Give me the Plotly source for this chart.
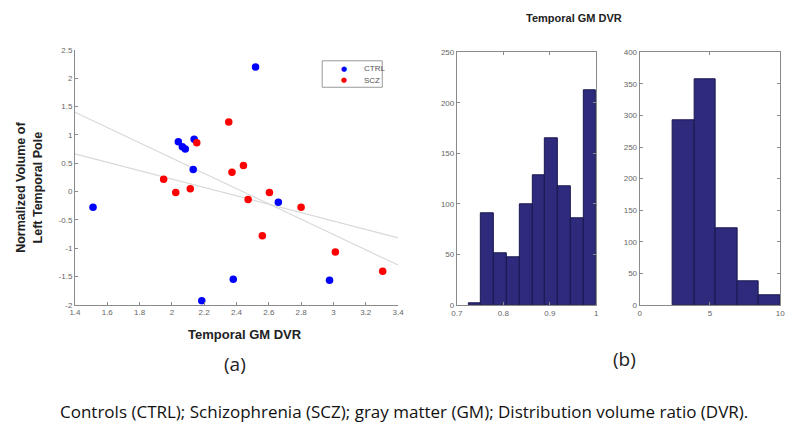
import plotly.graph_objects as go

# ---------------- data ----------------
ctrl_x = [2.518, 2.040, 2.065, 2.083, 2.138, 2.132, 1.512, 2.659, 2.380, 2.185, 2.976]
ctrl_y = [2.20, 0.88, 0.79, 0.75, 0.925, 0.39, -0.28, -0.19, -1.55, -1.93, -1.57]

scz_x = [2.352, 2.154, 2.443, 2.372, 1.949, 2.024, 2.114, 2.472, 2.604, 2.800, 2.560, 3.012, 3.305]
scz_y = [1.23, 0.86, 0.46, 0.34, 0.215, -0.016, 0.05, -0.14, -0.016, -0.28, -0.78, -1.07, -1.41]

fit_x = [1.4, 3.4]
fit1_y = [1.40, -1.30]
fit2_y = [0.665, -0.82]

hist1_edges = [0.725, 0.7525, 0.78, 0.8075, 0.835, 0.8625, 0.89, 0.9175, 0.945, 0.9725, 1.0]
hist1_counts = [2, 91, 51, 47, 100, 128, 165, 117, 86, 212]

hist2_edges = [2.35, 3.88, 5.41, 6.94, 8.47, 10.0]
hist2_counts = [292, 357, 122, 38, 16]

x1_ticks = [1.4, 1.6, 1.8, 2, 2.2, 2.4, 2.6, 2.8, 3, 3.2, 3.4]
y1_ticks = [-2, -1.5, -1, -0.5, 0, 0.5, 1, 1.5, 2, 2.5]

groups = ["CTRL", "SCZ"]
group_colors = ["#0000ff", "#ff0000"]

W, H = 800, 438
def px(x): return x / W
def py(y): return 1 - y / H

TICKFONT = dict(family="Liberation Sans", size=8, color="#666666")
AXCOL = "#8a8a8a"
BAR = "#2e2a7c"

def mids(e): return [(e[i] + e[i + 1]) / 2 for i in range(len(e) - 1)]
def widths(e): return [e[i + 1] - e[i] for i in range(len(e) - 1)]

fig = go.Figure()

# regression lines
for fy in (fit1_y, fit2_y):
    fig.add_trace(go.Scatter(x=fit_x, y=fy, mode="lines", line=dict(color="#d9d9d9", width=1.2),
                             showlegend=False, xaxis="x", yaxis="y", hoverinfo="skip"))
# points
fig.add_trace(go.Scatter(x=ctrl_x, y=ctrl_y, mode="markers", name=groups[0],
                         marker=dict(color=group_colors[0], size=7.5), xaxis="x", yaxis="y",
                         showlegend=False))
fig.add_trace(go.Scatter(x=scz_x, y=scz_y, mode="markers", name=groups[1],
                         marker=dict(color=group_colors[1], size=7.5), xaxis="x", yaxis="y",
                         showlegend=False))

# histograms
fig.add_trace(go.Bar(x=mids(hist1_edges), y=hist1_counts, width=widths(hist1_edges),
                     marker=dict(color=BAR, line=dict(color="#1a1850", width=1)),
                     showlegend=False, xaxis="x2", yaxis="y2"))
fig.add_trace(go.Bar(x=mids(hist2_edges), y=hist2_counts, width=widths(hist2_edges),
                     marker=dict(color=BAR, line=dict(color="#1a1850", width=1)),
                     showlegend=False, xaxis="x3", yaxis="y3"))

common = dict(showgrid=False, zeroline=False, linecolor=AXCOL, linewidth=1,
              ticks="inside", ticklen=3, tickcolor=AXCOL, tickfont=TICKFONT)

fig.update_layout(
    width=W, height=H, margin=dict(l=0, r=0, t=0, b=0),
    paper_bgcolor="white", plot_bgcolor="white", bargap=0, showlegend=False,
    xaxis=dict(domain=[px(70), px(398)], range=[1.4, 3.4], tickvals=x1_ticks,
               ticktext=[str(t) for t in x1_ticks], anchor="y", **common),
    yaxis=dict(domain=[py(307), py(47)], range=[-2, 2.5], tickvals=y1_ticks,
               ticktext=[str(t) for t in y1_ticks], anchor="x", **common),
    xaxis2=dict(domain=[px(457.7), px(599.3)], range=[0.7, 1.0], tickvals=[0.7, 0.8, 0.9, 1.0],
                ticktext=["0.7", "0.8", "0.9", "1"], anchor="y2", mirror="ticks", **common),
    yaxis2=dict(domain=[py(307.3), py(49.3)], range=[0, 250], tickvals=[0, 50, 100, 150, 200, 250],
                anchor="x2", mirror="ticks", **common),
    xaxis3=dict(domain=[px(643.3), px(786)], range=[0, 10], tickvals=[0, 5, 10],
                anchor="y3", mirror="ticks", **common),
    yaxis3=dict(domain=[py(307.3), py(49.3)], range=[0, 400],
                tickvals=[0, 50, 100, 150, 200, 250, 300, 350, 400],
                anchor="x3", mirror="ticks", **common),
)

# manual legend box
fig.add_shape(type="rect", xref="paper", yref="paper", x0=px(321), x1=px(382), y0=py(85), y1=py(58),
              line=dict(color="#999999", width=1), fillcolor="white", layer="above")

ann = [
    dict(x=px(24), y=py(187), text="<b>Normalized Volume of<br>Left Temporal Pole</b>", textangle=-90,
         font=dict(family="Liberation Sans", size=12.5, color="#222222")),
    dict(x=px(243), y=py(337), text="<b>Temporal GM DVR</b>",
         font=dict(family="Liberation Sans", size=13, color="#222222")),
    dict(x=px(577), y=py(14), text="<b>Temporal GM DVR</b>",
         font=dict(family="Liberation Sans", size=11, color="#222222")),
    dict(x=px(232), y=py(368), text="(a)",
         font=dict(family="Open Sans", size=19, color="#222222")),
    dict(x=px(628), y=py(362), text="(b)",
         font=dict(family="Open Sans", size=19, color="#222222")),
    dict(x=px(404), y=py(416),
         text="Controls (CTRL); Schizophrenia (SCZ); gray matter (GM); Distribution volume ratio (DVR).",
         font=dict(family="Open Sans", size=17, color="#111111")),
]
# legend entries
for i, (g, c) in enumerate(zip(groups, group_colors)):
    yy = 66 + i * 12
    ann.append(dict(x=px(343), y=py(yy), text="●", font=dict(family="DejaVu Sans", size=7, color=c)))
    ann.append(dict(x=px(361), y=py(yy), text=g, xanchor="left",
                    font=dict(family="Liberation Sans", size=8, color="#555555")))
for a in ann:
    a.setdefault("xanchor", "center")
    a.update(xref="paper", yref="paper", showarrow=False, yanchor="middle")
fig.update_layout(annotations=ann)

fig.write_html("out.html", config={"displayModeBar": False},
               post_script="document.body.style.margin='0';document.body.style.overflow='hidden';")
